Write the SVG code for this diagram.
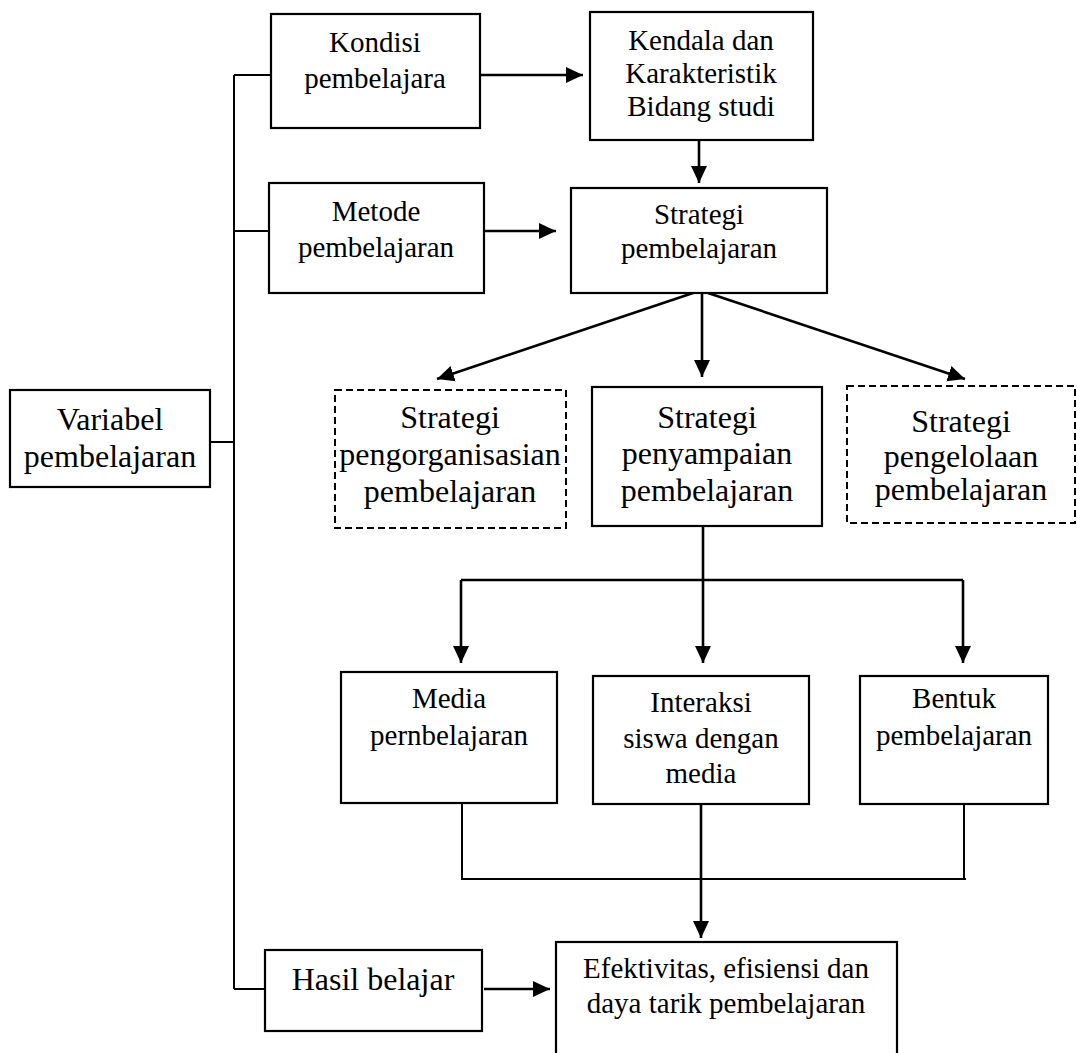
<svg xmlns="http://www.w3.org/2000/svg" width="1077" height="1053" viewBox="0 0 1077 1053">
<style>
.box{fill:#fff;stroke:#000;stroke-width:2.2}
.dash{fill:#fff;stroke:#000;stroke-width:2;stroke-dasharray:7 4}
.ln{fill:none;stroke:#000;stroke-width:2}
.ar{fill:none;stroke:#000;stroke-width:2.6}
.t{font-family:"Liberation Serif","Times New Roman",serif;font-size:29px;fill:#000;text-anchor:middle}
.tl{font-family:"Liberation Serif","Times New Roman",serif;font-size:32px;fill:#000;text-anchor:middle}
</style>
<defs>
<marker id="ah" markerUnits="userSpaceOnUse" markerWidth="18" markerHeight="18" viewBox="0 0 18 18" refX="17" refY="9" orient="auto">
<path d="M0,1 L17,9 L0,17 Z" fill="#000"/>
</marker>
</defs>
<g id="connectors">
<path class="ln" d="M234,75 V989"/>
<path class="ln" d="M234,75 H271"/>
<path class="ln" d="M234,231 H269"/>
<path class="ln" d="M210,442 H234"/>
<path class="ln" d="M234,989 H265"/>
<path class="ar" d="M480,75 H583" marker-end="url(#ah)"/>
<path class="ar" d="M484,231 H556" marker-end="url(#ah)"/>
<path class="ar" d="M699,140 V183" marker-end="url(#ah)"/>
<path class="ar" d="M693,293 L437,379" marker-end="url(#ah)"/>
<path class="ar" d="M702,293 V377" marker-end="url(#ah)"/>
<path class="ar" d="M708,293 L965,379" marker-end="url(#ah)"/>
<path class="ar" d="M703,526 V663" marker-end="url(#ah)"/>
<path class="ar" d="M461,580 H963"/>
<path class="ar" d="M461,580 V663" marker-end="url(#ah)"/>
<path class="ar" d="M963,580 V663" marker-end="url(#ah)"/>
<path class="ln" d="M462,803 V879 H966"/>
<path class="ln" d="M964,804 V879"/>
<path class="ar" d="M701,804 V938" marker-end="url(#ah)"/>
<path class="ar" d="M484,989 H550" marker-end="url(#ah)"/>
</g>
<g id="kondisi">
<rect class="box" x="271" y="14" width="209" height="114"/>
<text class="t" x="375" y="52">Kondisi</text>
<text class="t" x="375" y="88">pembelajara</text>
</g>
<g id="kendala">
<rect class="box" x="590" y="12" width="223" height="128"/>
<text class="t" x="701" y="50">Kendala dan</text>
<text class="t" x="701" y="83">Karakteristik</text>
<text class="t" x="701" y="116">Bidang studi</text>
</g>
<g id="metode">
<rect class="box" x="269" y="183" width="215" height="110"/>
<text class="t" x="376" y="221">Metode</text>
<text class="t" x="376" y="257">pembelajaran</text>
</g>
<g id="strategi">
<rect class="box" x="571" y="188" width="256" height="105"/>
<text class="t" x="699" y="224">Strategi</text>
<text class="t" x="699" y="258">pembelajaran</text>
</g>
<g id="variabel">
<rect class="box" x="10" y="390" width="200" height="97"/>
<text class="tl" x="110" y="430">Variabel</text>
<text class="tl" x="110" y="467">pembelajaran</text>
</g>
<g id="pengorganisasian">
<rect class="dash" x="335" y="390" width="231" height="138"/>
<text class="tl" x="450" y="428">Strategi</text>
<text class="tl" x="450" y="465">pengorganisasian</text>
<text class="tl" x="450" y="502">pembelajaran</text>
</g>
<g id="penyampaian">
<rect class="box" x="592" y="387" width="230" height="139"/>
<text class="tl" x="707" y="428">Strategi</text>
<text class="tl" x="707" y="464">penyampaian</text>
<text class="tl" x="707" y="501">pembelajaran</text>
</g>
<g id="pengelolaan">
<rect class="dash" x="847" y="386" width="228" height="137"/>
<text class="tl" x="961" y="432">Strategi</text>
<text class="tl" x="961" y="467">pengelolaan</text>
<text class="tl" x="961" y="500">pembelajaran</text>
</g>
<g id="media">
<rect class="box" x="341" y="672" width="216" height="131"/>
<text class="t" x="449" y="708">Media</text>
<text class="t" x="449" y="745">pernbelajaran</text>
</g>
<g id="interaksi">
<rect class="box" x="593" y="676" width="216" height="128"/>
<text class="t" x="701" y="712">Interaksi</text>
<text class="t" x="701" y="748">siswa dengan</text>
<text class="t" x="701" y="783">media</text>
</g>
<g id="bentuk">
<rect class="box" x="860" y="676" width="188" height="128"/>
<text class="t" x="954" y="708">Bentuk</text>
<text class="t" x="954" y="745">pembelajaran</text>
</g>
<g id="hasil">
<rect class="box" x="265" y="950" width="217" height="81"/>
<text class="tl" x="373" y="990">Hasil belajar</text>
</g>
<g id="efektivitas">
<rect class="box" x="556" y="942" width="341" height="130"/>
<text class="t" x="726" y="978">Efektivitas, efisiensi dan</text>
<text class="t" x="726" y="1013">daya tarik pembelajaran</text>
</g>
</svg>
